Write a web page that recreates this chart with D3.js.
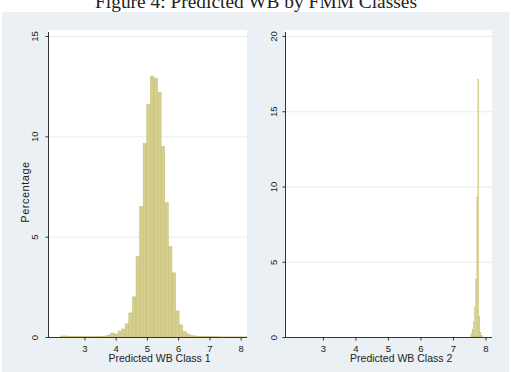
<!DOCTYPE html>
<html>
<head>
<meta charset="utf-8">
<script src="https://cdn.jsdelivr.net/npm/d3@7"></script>
<style>
  body { margin: 0; background: #fff; }
  .axis path, .axis line { stroke: #333; }
  .axis text { font-family: "Liberation Sans", Arial, sans-serif; font-size: 9.5px; fill: #222; }
  .label { font-family: "Liberation Sans", Arial, sans-serif; font-size: 10.5px; fill: #222; }
</style>
</head>
<body>
<script>
// class 1 histogram: bin starts and percentages
var binWidth1 = 0.115;
var bins1 = [2.235, 2.35, 2.465, 2.58, 2.695, 2.81, 2.925, 3.04, 3.155, 3.27,
             3.385, 3.5, 3.615, 3.73, 3.845, 3.96, 4.075, 4.19, 4.305, 4.42,
             4.535, 4.65, 4.765, 4.88, 4.995, 5.11, 5.225, 5.34, 5.455, 5.57,
             5.685, 5.8, 5.915, 6.03, 6.145, 6.26, 6.375, 6.49, 6.605, 6.72,
             6.835, 6.95, 7.065, 7.18, 7.295, 7.41, 7.525, 7.64, 7.755, 7.87,
             7.985, 8.1];
var pct1 = [0.05, 0.05, 0.04, 0.03, 0.02, 0.02, 0.02, 0.02, 0.02, 0.02,
            0.03, 0.03, 0.05, 0.1, 0.2, 0.15, 0.3, 0.4, 0.65, 1.2,
            2.0, 4.0, 6.5, 9.65, 11.6, 13.0, 12.9, 12.2, 9.5, 6.7,
            4.5, 3.2, 1.3, 0.6, 0.27, 0.15, 0.08, 0.05, 0.04, 0.03,
            0.02, 0.02, 0.02, 0.02, 0.01, 0.01, 0.01, 0.01, 0.01, 0.01,
            0.01, 0.01];

// class 2 histogram
var binWidth2 = 0.035;
var bins2 = [7.55, 7.585, 7.62, 7.655, 7.69, 7.725, 7.76, 7.795, 7.83, 7.865];
var pct2 = [0.2, 0.5, 1.0, 2.0, 3.8, 9.3, 17.1, 1.4, 0.3, 0.1];

var xTicks = [3, 4, 5, 6, 7, 8];
var yTicks1 = [0, 5, 10, 15];
var yTicks2 = [0, 5, 10, 15, 20];

var W = 511, H = 372;
var svg = d3.select("body").append("svg")
    .attr("width", W)
    .attr("height", H);

// outer graph region
svg.append("rect")
    .attr("x", 2).attr("y", 12)
    .attr("width", 507).attr("height", 360)
    .attr("fill", "#eaf0f3");

svg.append("text")
    .attr("x", 256)
    .attr("y", 8)
    .attr("text-anchor", "middle")
    .attr("textLength", 322)
    .attr("lengthAdjust", "spacingAndGlyphs")
    .style("font-family", "'Liberation Serif', 'DejaVu Serif', serif")
    .style("font-size", "18px")
    .style("fill", "#222")
    .text("Figure 4: Predicted WB by FMM Classes");

function panel(opt) {
    var x = d3.scaleLinear().domain([1.835, 8.17]).range([opt.left, opt.right]);
    var y = d3.scaleLinear().domain([0, opt.ymax]).range([337, 36]);

    var g = svg.append("g");

    // plot region
    g.append("rect")
        .attr("x", opt.left).attr("y", 30)
        .attr("width", opt.right - opt.left + 1).attr("height", 307)
        .attr("fill", "#fff");

    // gridlines
    g.selectAll(".grid")
        .data(opt.yTicks.filter(function(d) { return d > 0; }))
        .enter().append("line")
            .attr("x1", opt.left).attr("x2", opt.right + 1)
            .attr("y1", function(d) { return y(d) + 0.5; })
            .attr("y2", function(d) { return y(d) + 0.5; })
            .attr("stroke", "#e6ecee")
            .attr("stroke-width", 1);

    // bars
    g.selectAll(".bar")
        .data(opt.bins)
        .enter().append("rect")
            .attr("x", function(d) { return x(d); })
            .attr("width", function(d) { return x(d + opt.bw) - x(d); })
            .attr("y", function(d, i) { return y(opt.pct[i]); })
            .attr("height", function(d, i) { return y(0) - y(opt.pct[i]); })
            .attr("fill", "#d5ce8d")
            .attr("stroke", "#c6bd78")
            .attr("stroke-width", opt.bw > 0.05 ? 0.5 : 0.2);

    // x axis
    var gX = g.append("g")
        .attr("class", "axis")
        .attr("transform", "translate(0,337.5)")
        .call(d3.axisBottom(x).tickValues(xTicks).tickFormat(d3.format("d"))
            .tickSize(3).tickSizeOuter(0).tickPadding(5));
    gX.select(".domain").attr("d", "M" + opt.left + ",0H" + (opt.right + 1));

    // y axis
    var gY = g.append("g")
        .attr("class", "axis")
        .attr("transform", "translate(" + (opt.left + 0.5) + ",0)")
        .call(d3.axisLeft(y).tickValues(opt.yTicks).tickFormat(d3.format("d"))
            .tickSize(3).tickSizeOuter(0));
    gY.select(".domain").attr("d", "M0,337.5V32");
    gY.selectAll("text")
        .attr("transform", "rotate(-90)")
        .attr("text-anchor", "middle")
        .attr("x", 0)
        .attr("y", opt.yoff)
        .attr("dy", 0);

    g.append("text")
        .attr("class", "label")
        .attr("x", (x(3) + x(8)) / 2 - 3)
        .attr("y", 362)
        .attr("text-anchor", "middle")
        .text(opt.xlabel);
}

panel({left: 48, right: 246, ymax: 15, yTicks: yTicks1, bins: bins1, pct: pct1,
       bw: binWidth1, yoff: -11, xlabel: "Predicted WB Class 1"});
panel({left: 285, right: 491, ymax: 20, yTicks: yTicks2, bins: bins2, pct: pct2,
       bw: binWidth2, yoff: -8.5, xlabel: "Predicted WB Class 2"});

svg.append("text")
    .attr("class", "label")
    .attr("transform", "rotate(-90)")
    .attr("x", -192)
    .attr("y", 29)
    .attr("text-anchor", "middle")
    .style("font-size", "11px")
    .style("letter-spacing", "0.5px")
    .text("Percentage");
</script>
</body>
</html>
